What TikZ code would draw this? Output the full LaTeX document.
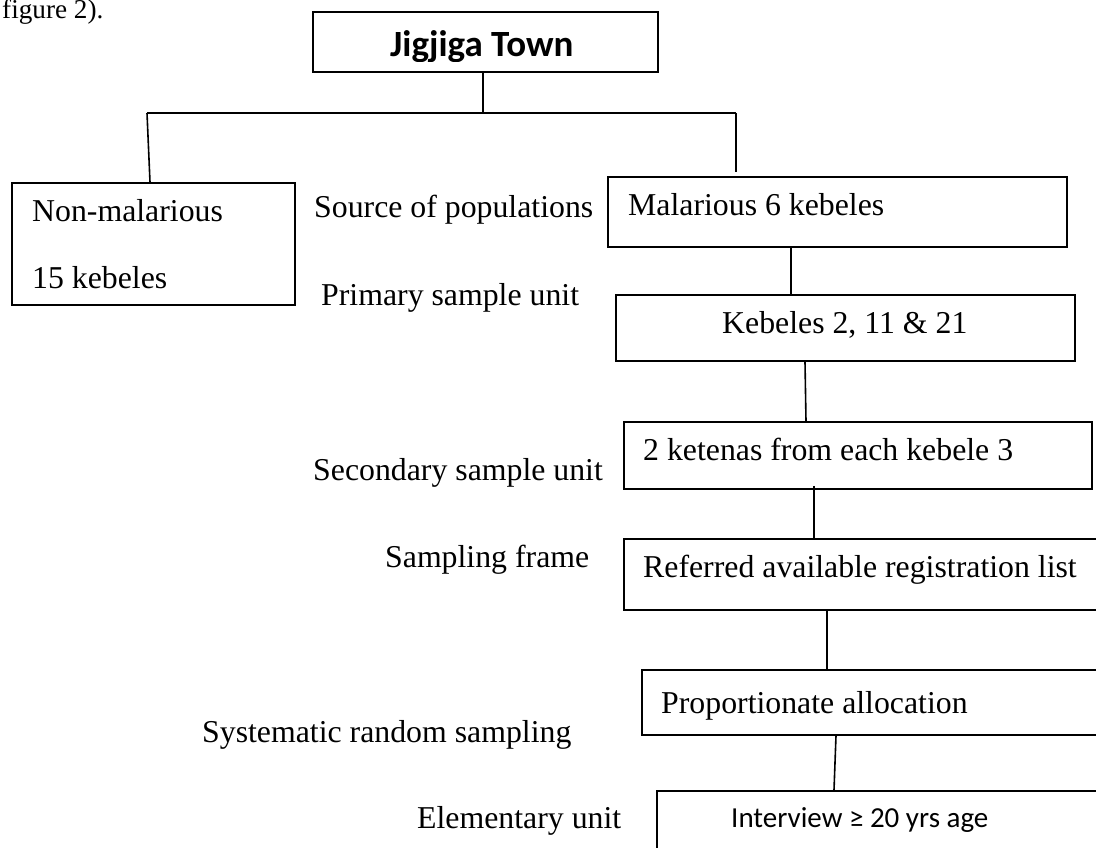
\documentclass[tikz,border=0pt]{standalone}
\usepackage{fontspec}
\setmainfont{Liberation Serif}
\newfontfamily\calfont{Carlito}
\usetikzlibrary{calc}
\begin{document}
\begin{tikzpicture}[x=1pt,y=-1pt,
  box/.style={draw, line width=1.8pt, inner sep=0pt, anchor=north west},
  ln/.style={draw, line width=1.6pt},
  lab/.style={inner sep=0pt, anchor=base west},
  sa/.style={lab, font=\fontsize{27.2pt}{33pt}\selectfont},
  sc/.style={lab, font=\fontsize{31.8pt}{38pt}\selectfont}]
\clip (0,0) rectangle (1096,848);
\fill[white] (0,0) rectangle (1096,848);
% text above the figure
\node[sa] (fig) at (2,19) {figure 2).};
% boxes
\node[box, minimum width=345pt, minimum height=60pt] (jig) at (312,11) {};
\begin{scope}
  \clip (312,11) rectangle (657,62);
  \node[lab, font=\calfont\bfseries\fontsize{37pt}{44pt}\selectfont] (jigt) at (390,57) {Jigjiga Town};
\end{scope}
\node[box, minimum width=283pt, minimum height=122pt] (nonm) at (11,182) {};
\node[sc] (nonmt1) at (32,222) {Non-malarious};
\node[sc] (nonmt2) at (32,288) {15 kebeles};
\node[box, minimum width=459pt, minimum height=70pt] (mal) at (607,176) {};
\node[sc] (malt) at (628,215) {Malarious 6 kebeles};
\node[box, minimum width=459pt, minimum height=66pt] (keb) at (615,294) {};
\node[sc] (kebt) at (722,333) {Kebeles 2, 11 \& 21};
\node[box, minimum width=468pt, minimum height=67pt] (ket) at (623,421) {};
\node[sc] (kett) at (643,460) {2 ketenas from each kebele 3};
\node[box, minimum width=490pt, minimum height=71pt] (ref) at (623,538) {};
\node[sc] (reft) at (643,577) {Referred available registration list};
\node[box, minimum width=470pt, minimum height=65pt] (prop) at (641,669) {};
\node[sc] (propt) at (661,713) {Proportionate allocation};
\node[box, minimum width=460pt, minimum height=80pt] (int) at (656,790) {};
\node[lab, font=\calfont\fontsize{29pt}{35pt}\selectfont] (intt) at (731,827) {Interview ≥ 20 yrs age};
% side labels
\node[sc] (l1) at (314,218) {Source of populations};
\node[sc] (l2) at (321,305) {Primary sample unit};
\node[sc] (l3) at (313,480) {Secondary sample unit};
\node[sc] (l4) at (385,567) {Sampling frame};
\node[sc] (l5) at (202,742) {Systematic random sampling};
\node[sc] (l6) at (417,828) {Elementary unit};
% connectors
\coordinate (c1) at (483,113);
\coordinate (cl) at (147,113);
\coordinate (cr) at (736,113);
\draw[ln] (jig.south -| c1) -- (c1);
\draw[ln] (cl) -- (cr);
\draw[ln] (cl) -- ($(nonm.north west)+(139,0)$);
\draw[ln] (cr) -- ($(mal.north -| cr)+(0,-4)$);
\draw[ln] ($(mal.south west)+(184,0)$) -- ($(keb.north west)+(176,0)$);
\draw[ln] ($(keb.south west)+(190,0)$) -- ($(ket.north west)+(183,0)$);
\draw[ln] ($(ket.south west)+(191,-4)$) -- ($(ref.north west)+(191,0)$);
\draw[ln] ($(ref.south west)+(204,0)$) -- ($(prop.north west)+(186,0)$);
\draw[ln] ($(prop.south west)+(195,0)$) -- ($(int.north west)+(178,0)$);
\end{tikzpicture}
\end{document}
